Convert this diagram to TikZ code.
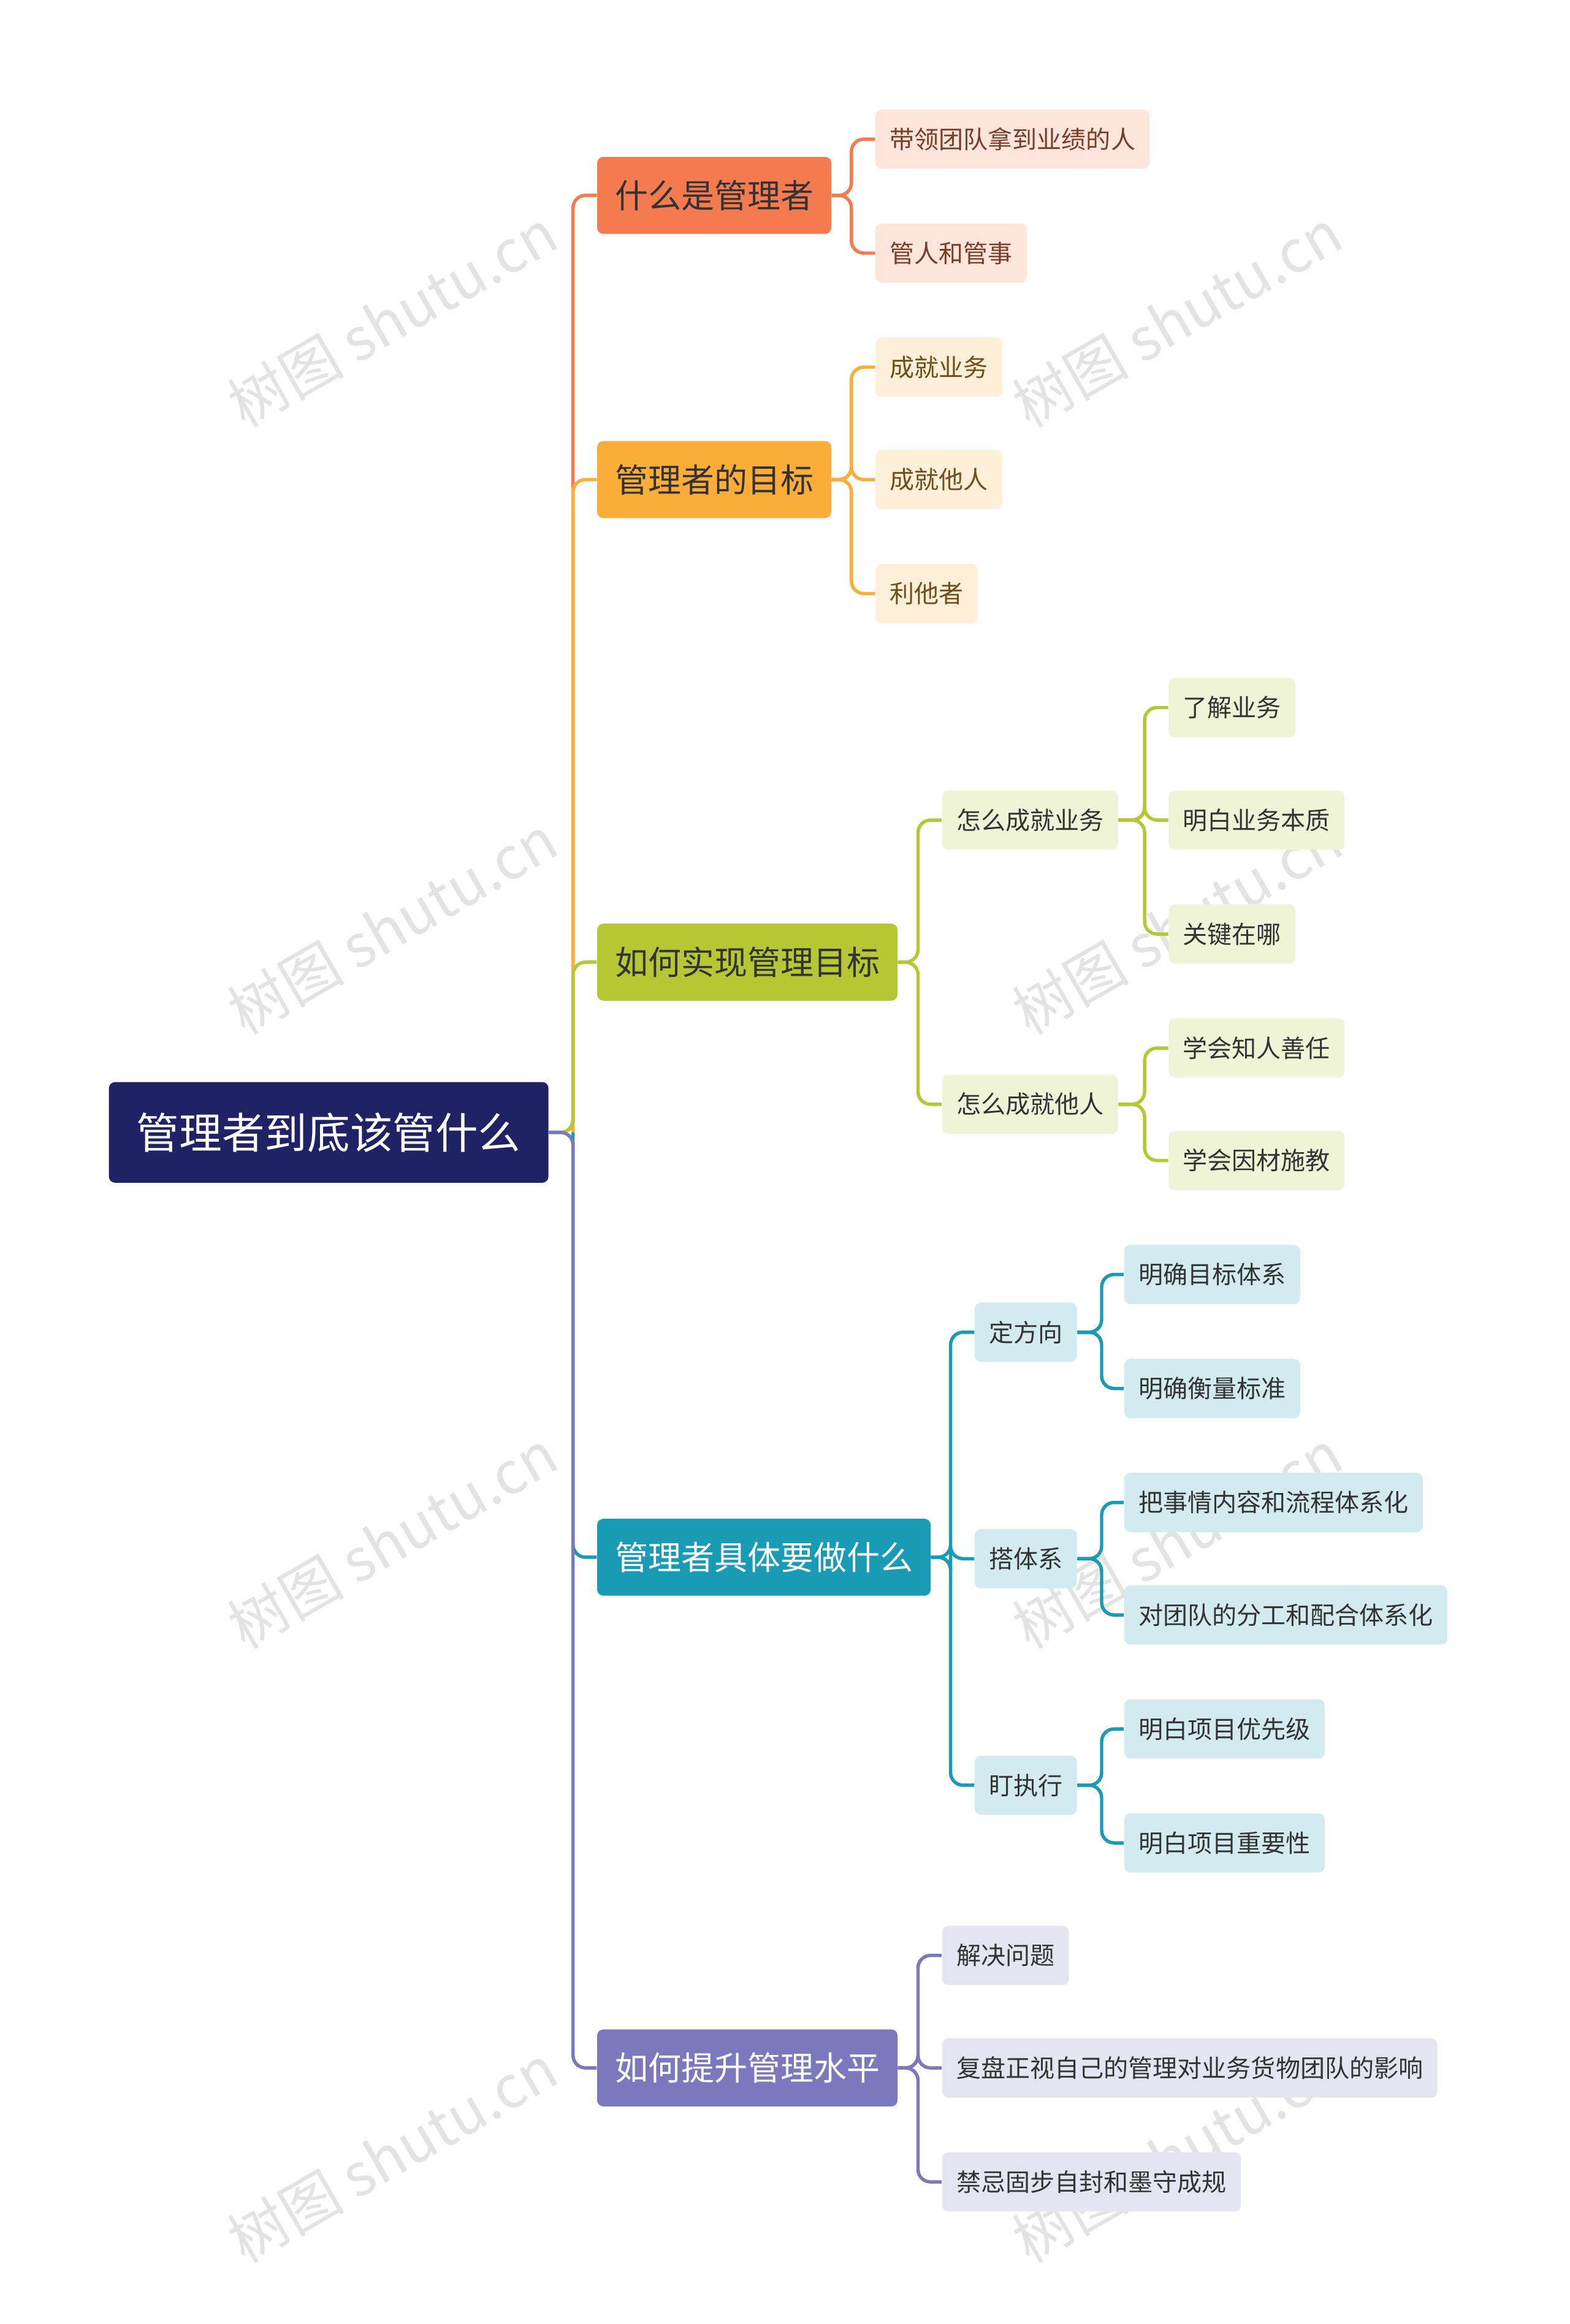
\documentclass[tikz,border=0pt]{standalone}
\usepackage{fontspec}
\setmainfont{Noto Sans CJK SC}
\usetikzlibrary{positioning}
\definecolor{rootc}{HTML}{1F2366}
\definecolor{orc}{HTML}{F47B50}
\definecolor{goc}{HTML}{FBAD3A}
\definecolor{grc}{HTML}{B5C833}
\definecolor{tec}{HTML}{1A9BB5}
\definecolor{puc}{HTML}{7B78BD}
\begin{document}
\begin{tikzpicture}[x=0.025cm,y=-0.025cm,
  rootbox/.style={rounded corners=3pt,fill=rootc,text=white,minimum height=1.7cm,
    minimum width=7.42cm,font=\fontsize{20.5}{24}\selectfont},
  branch/.style={rounded corners=3pt,anchor=west,minimum height=1.3cm,inner xsep=0.3cm,
    font=\fontsize{15.9}{19}\selectfont},
  leaf/.style={rounded corners=3pt,anchor=west,minimum height=1cm,inner xsep=0.24cm,
    font=\fontsize{11.8}{14}\selectfont},
  link/.style={line width=1.6pt,rounded corners=6pt}]
\useasboundingbox (0,0) rectangle (1060,1570);
% watermarks
\foreach \wx in {265,795}
  \foreach \wy in {215,625,1040,1455}
    \node[text=gray!22,font=\fontsize{28}{30}\selectfont,rotate=30] at (\wx,\wy) {树图 shutu.cn};
% root and branches
\node[rootbox] (root) at (222,765) {管理者到底该管什么};
\node[branch,fill=orc,text=black!80] (b1) at (403,132) {什么是管理者};
\node[branch,fill=goc,text=black!80] (b2) at (403,324) {管理者的目标};
\node[branch,fill=grc,text=black!80] (b3) at (403,650) {如何实现管理目标};
\node[branch,fill=tec,text=white] (b4) at (403,1052) {管理者具体要做什么};
\node[branch,fill=puc,text=white] (b5) at (403,1397) {如何提升管理水平};
\coordinate (hub) at (387,765);
\draw[link,orc] (root.east) -- (hub) |- (b1.west);
\draw[link,goc] (hub) |- (b2.west);
\draw[link,grc] (root.east) -- (hub) |- (b3.west);
\draw[link,tec] (hub) |- (b4.west);
\draw[link,puc] (root.east) -- (hub) |- (b5.west);
% branch 1
\tikzset{l1/.style={leaf,fill=orc!20,text=orc!50!black}}
\node[l1] (b1a) at (591,94) {带领团队拿到业绩的人};
\node[l1] (b1b) at (591,171) {管人和管事};
\foreach \c in {b1a,b1b}
  \draw[link,orc] (b1.east) -- (575,132) |- (\c.west);
% branch 2
\tikzset{l2/.style={leaf,fill=goc!20,text=goc!45!black}}
\node[l2] (b2a) at (591,248) {成就业务};
\node[l2] (b2b) at (591,324) {成就他人};
\node[l2] (b2c) at (591,401) {利他者};
\foreach \c in {b2a,b2b,b2c}
  \draw[link,goc] (b2.east) -- (575,324) |- (\c.west);
% branch 3
\tikzset{l3/.style={leaf,fill=grc!20,text=black!80}}
\node[l3] (b3a) at (636,554) {怎么成就业务};
\node[l3] (b3b) at (636,746) {怎么成就他人};
\foreach \c in {b3a,b3b}
  \draw[link,grc] (b3.east) -- (620,650) |- (\c.west);
\node[l3] (b3a1) at (789,478) {了解业务};
\node[l3] (b3a2) at (789,554) {明白业务本质};
\node[l3] (b3a3) at (789,631) {关键在哪};
\foreach \c in {b3a1,b3a2,b3a3}
  \draw[link,grc] (b3a.east) -- (773,554) |- (\c.west);
\node[l3] (b3b1) at (789,708) {学会知人善任};
\node[l3] (b3b2) at (789,784) {学会因材施教};
\foreach \c in {b3b1,b3b2}
  \draw[link,grc] (b3b.east) -- (773,746) |- (\c.west);
% branch 4
\tikzset{l4/.style={leaf,fill=tec!20,text=black!80}}
\node[l4] (b4a) at (658,900) {定方向};
\node[l4] (b4b) at (658,1053) {搭体系};
\node[l4] (b4c) at (658,1206) {盯执行};
\foreach \c in {b4a,b4b,b4c}
  \draw[link,tec] (b4.east) -- (642,1052) |- (\c.west);
\node[l4] (b4a1) at (759,861) {明确目标体系};
\node[l4] (b4a2) at (759,938) {明确衡量标准};
\foreach \c in {b4a1,b4a2}
  \draw[link,tec] (b4a.east) -- (744,900) |- (\c.west);
\node[l4] (b4b1) at (759,1015) {把事情内容和流程体系化};
\node[l4] (b4b2) at (759,1091) {对团队的分工和配合体系化};
\foreach \c in {b4b1,b4b2}
  \draw[link,tec] (b4b.east) -- (744,1053) |- (\c.west);
\node[l4] (b4c1) at (759,1168) {明白项目优先级};
\node[l4] (b4c2) at (759,1245) {明白项目重要性};
\foreach \c in {b4c1,b4c2}
  \draw[link,tec] (b4c.east) -- (744,1206) |- (\c.west);
% branch 5
\tikzset{l5/.style={leaf,fill=puc!20,text=black!80}}
\node[l5] (b5a) at (636,1321) {解决问题};
\node[l5] (b5b) at (636,1397) {复盘正视自己的管理对业务货物团队的影响};
\node[l5] (b5c) at (636,1474) {禁忌固步自封和墨守成规};
\foreach \c in {b5a,b5b,b5c}
  \draw[link,puc] (b5.east) -- (620,1397) |- (\c.west);
\end{tikzpicture}
\end{document}
